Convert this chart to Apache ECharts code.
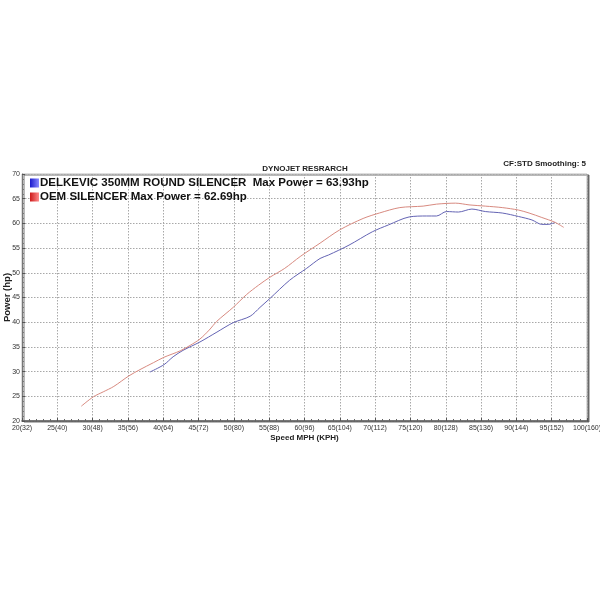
<!DOCTYPE html>
<html>
<head>
<meta charset="utf-8">
<script src="https://cdn.jsdelivr.net/npm/echarts@6/dist/echarts.min.js"></script>
<style>html,body{margin:0;padding:0;background:#fff;}#c{width:600px;height:600px;}</style>
</head>
<body>
<div id="c"></div>
<script>
var xTicks = [20,25,30,35,40,45,50,55,60,65,70,75,80,85,90,95,100];
var xTickLabels = ['20(32)','25(40)','30(48)','35(56)','40(64)','45(72)','50(80)','55(88)','60(96)','65(104)','70(112)','75(120)','80(128)','85(136)','90(144)','95(152)','100(160)'];
var seriesNames = ['DELKEVIC 350MM ROUND SILENCER  Max Power = 63.93hp', 'OEM SILENCER Max Power = 62.69hp'];

var delkevicSpeed = [38.1,40.1,41.4,42.8,45.2,47.6,49.9,52.3,53.7,55.1,57.9,60.3,62.2,63.4,66.3,69.6,71.9,74.8,77.3,78.7,80.1,81.8,83.7,85.6,88.0,90.3,92.2,93.6,94.5,95.5];
var delkevicPower = [29.9,31.4,33.0,34.3,36.0,38.0,39.9,41.2,43.0,44.8,48.5,50.9,52.9,53.6,55.6,58.3,59.7,61.3,61.5,61.5,62.4,62.3,62.9,62.4,62.1,61.4,60.7,59.8,59.8,60.2];

var oemSpeed = [28.4,30.1,31.5,33.0,35.1,36.7,38.6,40.1,42.4,43.8,45.2,46.5,47.6,49.9,51.8,53.5,55.1,57.2,59.4,62.2,65.0,68.3,70.6,73.5,76.8,78.7,81.4,83.3,85.6,88.0,90.3,91.8,93.6,95.5,96.7];
var oemPower = [23.0,24.9,25.9,27.0,29.1,30.4,31.8,32.9,34.2,35.3,36.6,38.4,40.2,43.0,45.6,47.5,49.1,50.9,53.3,56.0,58.7,61.0,62.1,63.2,63.5,63.9,64.1,63.75,63.5,63.2,62.7,62.1,61.2,60.2,59.2];

function pairs(xs, ys){ return xs.map(function(x,i){ return [x, ys[i]]; }); }

var chart = echarts.init(document.getElementById('c'), null, {renderer:'canvas'});
var fontFam = '"Liberation Sans", Arial, sans-serif';
chart.setOption({
  animation: false,
  backgroundColor: '#ffffff',
  title: [
    {text: 'DYNOJET RESRARCH', left: 300, top: 160, textAlign: 'center',
     textStyle: {fontSize: 8, fontWeight: 'bold', color: '#222', fontFamily: fontFam}},
    {text: 'CF:STD Smoothing: 5', right: 9, top: 155,
     textStyle: {fontSize: 8, fontWeight: 'bold', color: '#222', fontFamily: fontFam}}
  ],
  legend: {
    orient: 'vertical', left: 30, top: 177, padding: 0, itemWidth: 9, itemHeight: 9, itemGap: 2,
    icon: 'rect', selectedMode: false,
    textStyle: {fontSize: 11.5, fontWeight: 'bold', color: '#111', fontFamily: fontFam, padding: [0,0,0,-4]},
    data: [
      {name: seriesNames[0], itemStyle: {color: new echarts.graphic.LinearGradient(0,0,1,0,[{offset:0,color:'#1a1acc'},{offset:1,color:'#8a8aff'}])}},
      {name: seriesNames[1], itemStyle: {color: new echarts.graphic.LinearGradient(0,0,1,0,[{offset:0,color:'#cc1a1a'},{offset:1,color:'#ff8a8a'}])}}
    ]
  },
  grid: {
    left: 22, right: 13, top: 174, bottom: 179, show: true, containLabel: false, outerBoundsMode: 'none',
    backgroundColor: '#fff', borderColor: '#bbbbbb', borderWidth: 1,
    shadowColor: 'rgba(90,90,90,0.85)', shadowOffsetX: 2, shadowOffsetY: 1, shadowBlur: 0
  },
  xAxis: {
    type: 'value', min: 20, max: 100, interval: 5,
    name: 'Speed MPH (KPH)', nameLocation: 'middle', nameGap: 13, nameMoveOverlap: false,
    nameTextStyle: {fontSize: 8, fontWeight: 'bold', color: '#222', fontFamily: fontFam},
    axisLine: {show: true, lineStyle: {color: '#555', width: 1.5}},
    axisTick: {show: true, inside: true, length: 3, lineStyle: {color: '#555'}},
    minorTick: {show: true, splitNumber: 5, length: 2, lineStyle: {color: '#666'}},
    axisLabel: {fontSize: 7, color: '#333', margin: 4, fontFamily: fontFam, showMinLabel: true, showMaxLabel: true, hideOverlap: false,
      formatter: function(v){ var i = xTicks.indexOf(v); return i >= 0 ? xTickLabels[i] : ''; }},
    splitLine: {show: true, lineStyle: {color: '#a8a8a8', type: [1.5,1.5], width: 1}}
  },
  yAxis: {
    type: 'value', min: 20, max: 70, interval: 5,
    name: 'Power (hp)', nameLocation: 'middle', nameGap: 10, nameRotate: 90, nameMoveOverlap: false,
    nameTextStyle: {fontSize: 9.5, fontWeight: 'bold', color: '#222', fontFamily: fontFam},
    axisLine: {show: true, lineStyle: {color: '#777', width: 1}},
    axisTick: {show: true, inside: true, length: 3, lineStyle: {color: '#555'}},
    minorTick: {show: true, splitNumber: 5, length: 2, lineStyle: {color: '#777'}},
    axisLabel: {fontSize: 7, color: '#333', margin: 2, fontFamily: fontFam},
    splitLine: {show: true, lineStyle: {color: '#a8a8a8', type: [1.5,1.5], width: 1}}
  },
  series: [
    {name: seriesNames[0], type: 'line', data: pairs(delkevicSpeed, delkevicPower), showSymbol: false, smooth: 0.3,
     lineStyle: {color: '#6464b4', width: 1}, itemStyle: {color: '#6464b4'}},
    {name: seriesNames[1], type: 'line', data: pairs(oemSpeed, oemPower), showSymbol: false, smooth: 0.3,
     lineStyle: {color: '#d88a80', width: 1}, itemStyle: {color: '#d88a80'}}
  ]
});
</script>
</body>
</html>
